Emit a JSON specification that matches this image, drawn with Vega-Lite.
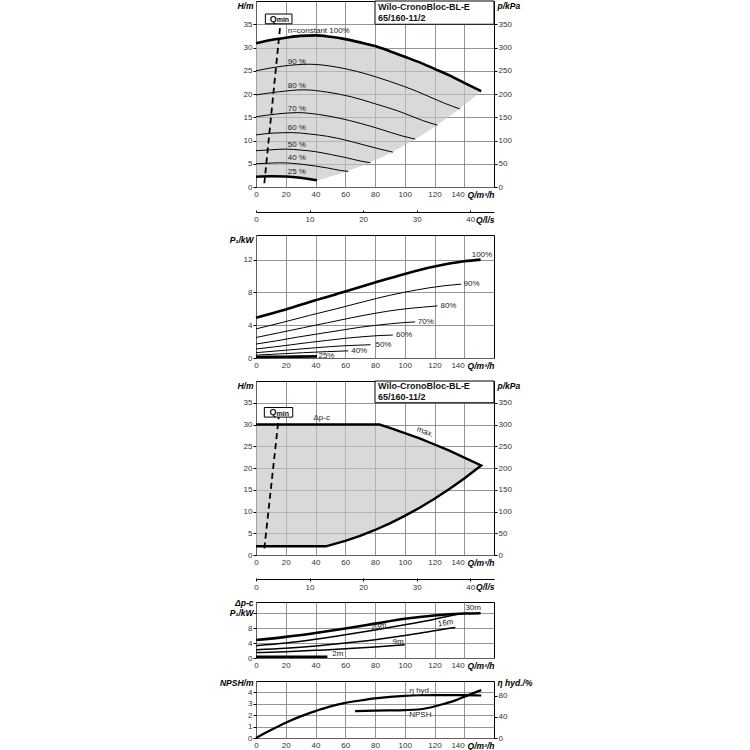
{
"$schema": "https://vega.github.io/schema/vega-lite/v6.json",
"background": "white",
"padding": {"left": 218, "top": 0, "right": 5, "bottom": 2},
"autosize": {"type": "pad"},
"spacing": 23,
"bounds": "flush",
"config": {
  "view": {"stroke": "black", "strokeWidth": 1},
  "font": "Liberation Sans",
  "axis": {"labelFont": "Liberation Sans", "labelFontSize": 8, "labelColor": "#333", "titleFont": "Liberation Sans", "titleFontSize": 8.5, "titleFontWeight": "bold", "titleFontStyle": "italic", "titleColor": "#000", "gridColor": "#7a7a7a", "gridWidth": 0.8, "domain": false, "tickColor": "#000", "tickSize": 3, "labelPadding": 1, "labelFlush": false, "labelOverlap": false},
  "text": {"font": "Liberation Sans", "fontSize": 8, "color": "#222"},
  "line": {"color": "black"}
},
"datasets": {
  "curvesA": [
    {"n":"100%","Q":0,"H":30.9},{"n":"100%","Q":10,"H":31.6},{"n":"100%","Q":20,"H":32.1},{"n":"100%","Q":30,"H":32.5},{"n":"100%","Q":40,"H":32.6},{"n":"100%","Q":50,"H":32.3},{"n":"100%","Q":60,"H":31.8},{"n":"100%","Q":70,"H":31.1},{"n":"100%","Q":80,"H":30.3},{"n":"100%","Q":90,"H":29.2},{"n":"100%","Q":100,"H":28.0},{"n":"100%","Q":110,"H":26.8},{"n":"100%","Q":120,"H":25.4},{"n":"100%","Q":130,"H":24.0},{"n":"100%","Q":140,"H":22.4},{"n":"100%","Q":151.4,"H":20.6},
    {"n":"90%","Q":0,"H":25.0},{"n":"90%","Q":18,"H":26.0},{"n":"90%","Q":36,"H":26.4},{"n":"90%","Q":54,"H":25.8},{"n":"90%","Q":72,"H":24.5},{"n":"90%","Q":90,"H":22.7},{"n":"90%","Q":108,"H":20.6},{"n":"90%","Q":126,"H":18.1},{"n":"90%","Q":137,"H":16.8},
    {"n":"80%","Q":0,"H":19.8},{"n":"80%","Q":16,"H":20.5},{"n":"80%","Q":32,"H":20.9},{"n":"80%","Q":48,"H":20.4},{"n":"80%","Q":64,"H":19.4},{"n":"80%","Q":80,"H":17.9},{"n":"80%","Q":96,"H":16.3},{"n":"80%","Q":112,"H":14.3},{"n":"80%","Q":122,"H":13.3},
    {"n":"70%","Q":0,"H":15.1},{"n":"70%","Q":14,"H":15.7},{"n":"70%","Q":28,"H":16.0},{"n":"70%","Q":42,"H":15.6},{"n":"70%","Q":56,"H":14.8},{"n":"70%","Q":70,"H":13.7},{"n":"70%","Q":84,"H":12.4},{"n":"70%","Q":98,"H":11.0},{"n":"70%","Q":107,"H":10.3},
    {"n":"60%","Q":0,"H":11.2},{"n":"60%","Q":12,"H":11.6},{"n":"60%","Q":24,"H":11.7},{"n":"60%","Q":36,"H":11.4},{"n":"60%","Q":48,"H":10.9},{"n":"60%","Q":60,"H":10.1},{"n":"60%","Q":72,"H":9.1},{"n":"60%","Q":84,"H":8.1},{"n":"60%","Q":92,"H":7.5},
    {"n":"50%","Q":0,"H":7.8},{"n":"50%","Q":10,"H":8.0},{"n":"50%","Q":20,"H":8.15},{"n":"50%","Q":30,"H":7.95},{"n":"50%","Q":40,"H":7.6},{"n":"50%","Q":50,"H":7.0},{"n":"50%","Q":60,"H":6.35},{"n":"50%","Q":70,"H":5.6},{"n":"50%","Q":77,"H":5.2},
    {"n":"40%","Q":0,"H":5.0},{"n":"40%","Q":8,"H":5.1},{"n":"40%","Q":16,"H":5.2},{"n":"40%","Q":24,"H":5.1},{"n":"40%","Q":32,"H":4.85},{"n":"40%","Q":40,"H":4.5},{"n":"40%","Q":48,"H":4.1},{"n":"40%","Q":56,"H":3.6},{"n":"40%","Q":62,"H":3.35},
    {"n":"25%","Q":0,"H":2.2},{"n":"25%","Q":10,"H":2.3},{"n":"25%","Q":20,"H":2.25},{"n":"25%","Q":30,"H":2.0},{"n":"25%","Q":41,"H":1.45}
  ],
  "curvesB": [
    {"n":"100%","Q":0,"P":4.9},{"n":"100%","Q":20,"P":5.9},{"n":"100%","Q":40,"P":7.05},{"n":"100%","Q":60,"P":8.1},{"n":"100%","Q":80,"P":9.2},{"n":"100%","Q":100,"P":10.25},{"n":"100%","Q":120,"P":11.15},{"n":"100%","Q":140,"P":11.8},{"n":"100%","Q":151,"P":12.0},
    {"n":"90%","Q":0,"P":3.55},{"n":"90%","Q":18,"P":4.35},{"n":"90%","Q":36,"P":5.2},{"n":"90%","Q":54,"P":6.0},{"n":"90%","Q":72,"P":6.85},{"n":"90%","Q":90,"P":7.65},{"n":"90%","Q":108,"P":8.3},{"n":"90%","Q":126,"P":8.8},{"n":"90%","Q":138,"P":9.0},
    {"n":"80%","Q":0,"P":2.5},{"n":"80%","Q":16,"P":3.1},{"n":"80%","Q":32,"P":3.7},{"n":"80%","Q":48,"P":4.3},{"n":"80%","Q":64,"P":4.9},{"n":"80%","Q":80,"P":5.45},{"n":"80%","Q":96,"P":5.9},{"n":"80%","Q":112,"P":6.2},{"n":"80%","Q":122,"P":6.35},
    {"n":"70%","Q":0,"P":1.7},{"n":"70%","Q":14,"P":2.1},{"n":"70%","Q":28,"P":2.55},{"n":"70%","Q":42,"P":2.95},{"n":"70%","Q":56,"P":3.35},{"n":"70%","Q":70,"P":3.75},{"n":"70%","Q":84,"P":4.05},{"n":"70%","Q":98,"P":4.3},{"n":"70%","Q":107,"P":4.4},
    {"n":"60%","Q":0,"P":1.1},{"n":"60%","Q":12,"P":1.35},{"n":"60%","Q":24,"P":1.62},{"n":"60%","Q":36,"P":1.9},{"n":"60%","Q":48,"P":2.15},{"n":"60%","Q":60,"P":2.4},{"n":"60%","Q":72,"P":2.6},{"n":"60%","Q":84,"P":2.75},{"n":"60%","Q":92,"P":2.8},
    {"n":"50%","Q":0,"P":0.65},{"n":"50%","Q":20,"P":0.95},{"n":"50%","Q":40,"P":1.25},{"n":"50%","Q":60,"P":1.5},{"n":"50%","Q":77,"P":1.62},
    {"n":"40%","Q":0,"P":0.35},{"n":"40%","Q":16,"P":0.5},{"n":"40%","Q":32,"P":0.65},{"n":"40%","Q":48,"P":0.78},{"n":"40%","Q":62,"P":0.87},
    {"n":"25%","Q":0,"P":0.12},{"n":"25%","Q":20,"P":0.15},{"n":"25%","Q":41,"P":0.2}
  ],
  "curvesD": [
    {"c":"30m","Q":0,"P":4.8},{"c":"30m","Q":20,"P":5.65},{"c":"30m","Q":40,"P":6.7},{"c":"30m","Q":60,"P":7.9},{"c":"30m","Q":80,"P":9.2},{"c":"30m","Q":100,"P":10.5},{"c":"30m","Q":120,"P":11.4},{"c":"30m","Q":140,"P":11.9},{"c":"30m","Q":151,"P":12.0},
    {"c":"23m","Q":0,"P":3.3},{"c":"23m","Q":20,"P":4.0},{"c":"23m","Q":40,"P":5.0},{"c":"23m","Q":60,"P":6.2},{"c":"23m","Q":80,"P":7.5},{"c":"23m","Q":100,"P":8.9},{"c":"23m","Q":120,"P":10.4},{"c":"23m","Q":138,"P":11.9},
    {"c":"16m","Q":0,"P":2.2},{"c":"16m","Q":20,"P":2.6},{"c":"16m","Q":40,"P":3.2},{"c":"16m","Q":60,"P":4.0},{"c":"16m","Q":80,"P":4.9},{"c":"16m","Q":100,"P":6.0},{"c":"16m","Q":120,"P":7.3},{"c":"16m","Q":134,"P":8.2},
    {"c":"9m","Q":0,"P":1.45},{"c":"9m","Q":20,"P":1.7},{"c":"9m","Q":40,"P":2.05},{"c":"9m","Q":60,"P":2.45},{"c":"9m","Q":80,"P":2.95},{"c":"9m","Q":100,"P":3.55},
    {"c":"2m","Q":0,"P":0.35},{"c":"2m","Q":48,"P":0.35}
  ]
},
"vconcat": [
  {
    "width": 238, "height": 186,
    "encoding": {"x": {"field": "Q", "type": "quantitative", "scale": {"domain": [0, 160], "nice": false},
       "axis": {"values": [0,20,40,60,80,100,120,140], "title": "Q/m³/h", "titleX": 238, "titleY": 3, "titleAlign": "right", "titleBaseline": "top", "titleAngle": 0, "ticks": false, "labelPadding": 3, "labelAlign": {"condition": {"test": "datum.value === 140", "value": "right"}, "value": "center"}}}},
    "layer": [
      {"encoding": {"y": {"field": "H", "type": "quantitative", "scale": {"domain": [0, 40], "nice": false},
          "axis": {"values": [0,5,10,15,20,25,30,35], "title": "H/m", "titleX": -3, "titleY": 4, "titleAlign": "right", "titleBaseline": "middle", "titleAngle": 0}}},
       "layer": [
        {"data": {"values": [{"Q":0,"H":30.9,"lo":2.2},{"Q":10,"H":31.6,"lo":2.3},{"Q":20,"H":32.1,"lo":2.25},{"Q":30,"H":32.5,"lo":2.0},{"Q":41,"H":32.6,"lo":1.45},{"Q":50,"H":32.3,"lo":2.25},{"Q":60,"H":31.8,"lo":3.24},{"Q":70,"H":31.1,"lo":4.4},{"Q":80,"H":30.3,"lo":5.75},{"Q":90,"H":29.2,"lo":7.28},{"Q":100,"H":28.0,"lo":8.99},{"Q":110,"H":26.8,"lo":10.87},{"Q":120,"H":25.4,"lo":12.94},{"Q":130,"H":24.0,"lo":15.19},{"Q":140,"H":22.4,"lo":17.6},{"Q":151.4,"H":20.6,"lo":20.6}]},
         "mark": {"type": "area", "color": "#c4c4c4", "opacity": 0.65, "interpolate": "monotone"},
         "encoding": {"y2": {"field": "lo"}}},
        {"data": {"name": "curvesA"}, "transform": [{"filter": "datum.n !== '100%' && datum.n !== '25%'"}],
         "mark": {"type": "line", "strokeWidth": 1, "interpolate": "monotone"},
         "encoding": {"detail": {"field": "n"}}},
        {"data": {"name": "curvesA"}, "transform": [{"filter": "datum.n === '100%' || datum.n === '25%'"}],
         "mark": {"type": "line", "strokeWidth": 2.6, "interpolate": "monotone"},
         "encoding": {"detail": {"field": "n"}}},
        {"data": {"values": [{"Q":16.4,"H":35.1},{"Q":5.6,"H":0.8}]},
         "mark": {"type": "line", "strokeWidth": 1.8, "strokeDash": [6, 4]},
         "encoding": {}},
        {"data": {"values": [{"Q":80,"Q2":160,"H":35,"H2":40},{"Q":6.3,"Q2":24.2,"H":35.1,"H2":37.2}]},
         "mark": {"type": "rect", "fill": "white", "stroke": "black", "strokeWidth": 1},
         "encoding": {"x2": {"field": "Q2"}, "y2": {"field": "H2"}}},
        {"data": {"values": [{"t":"Wilo-CronoBloc-BL-E","Q":82,"H":38.7},{"t":"65/160-11/2","Q":82,"H":36.4}]},
         "mark": {"type": "text", "align": "left", "baseline": "middle", "fontSize": 9, "fontWeight": "bold", "color": "#111"},
         "encoding": {"text": {"field": "t"}}},
        {"data": {"values": [{"t":"Q","Q":15.25,"H":36.15}]},
         "mark": {"type": "text", "align": "right", "baseline": "middle", "dx": -2, "fontSize": 9, "fontWeight": "bold", "color": "#111"},
         "encoding": {"text": {"field": "t"}}},
        {"data": {"values": [{"t":"min","Q":15.25,"H":36.15}]},
         "mark": {"type": "text", "align": "left", "baseline": "middle", "dx": -2, "dy": 1.5, "fontSize": 7, "fontWeight": "bold", "color": "#111"},
         "encoding": {"text": {"field": "t"}}},
        {"data": {"values": [{"t":"n=constant 100%","Q":21.3,"H":33.6},{"t":"90 %","Q":21.3,"H":26.9},{"t":"80 %","Q":21.3,"H":21.7},{"t":"70 %","Q":21.3,"H":16.8},{"t":"60 %","Q":21.3,"H":12.7},{"t":"50 %","Q":21.3,"H":9.1},{"t":"40 %","Q":21.3,"H":6.2},{"t":"25 %","Q":21.3,"H":3.2}]},
         "mark": {"type": "text", "align": "left", "baseline": "middle", "color": "#222"},
         "encoding": {"text": {"field": "t"}}}
      ]},
      {"data": {"values": [{"Q":50,"p":100},{"Q":50,"p":200}]}, "mark": {"type": "point", "opacity": 0, "size": 1},
       "encoding": {"y": {"field": "p", "type": "quantitative", "scale": {"domain": [0, 400], "nice": false},
         "axis": {"orient": "right", "values": [0,50,100,150,200,250,300,350], "title": "p/kPa", "titleX": 3, "titleY": 4, "titleAlign": "left", "titleBaseline": "middle", "titleAngle": 0, "grid": false}}}}
    ],
    "resolve": {"scale": {"y": "independent"}}
  },
  {
    "width": 238, "height": 2, "view": {"stroke": null},
    "data": {"values": [{"ls":10},{"ls":20}]},
    "mark": {"type": "point", "opacity": 0, "size": 1},
    "encoding": {"x": {"field": "ls", "type": "quantitative", "scale": {"domain": [0, 44.44], "nice": false},
      "axis": {"values": [0,10,20,30,40], "title": "Q/l/s", "titleX": 238, "titleY": 3, "titleAlign": "right", "titleBaseline": "top", "titleAngle": 0, "domain": true, "domainColor": "#000", "domainWidth": 1, "ticks": false, "grid": true, "gridColor": "#000", "gridWidth": 1, "labelPadding": 3}}}
  },
  {
    "width": 238, "height": 123,
    "encoding": {
      "x": {"field": "Q", "type": "quantitative", "scale": {"domain": [0, 160], "nice": false},
        "axis": {"values": [0,20,40,60,80,100,120,140], "title": "Q/m³/h", "titleX": 238, "titleY": 3, "titleAlign": "right", "titleBaseline": "top", "titleAngle": 0, "ticks": false, "labelPadding": 3, "labelAlign": {"condition": {"test": "datum.value === 140", "value": "right"}, "value": "center"}}},
      "y": {"field": "P", "type": "quantitative", "scale": {"domain": [0, 15], "nice": false},
        "axis": {"values": [0,4,8,12], "title": "P₁/kW", "titleX": -3, "titleY": 4.5, "titleAlign": "right", "titleBaseline": "middle", "titleAngle": 0}}},
    "layer": [
      {"data": {"name": "curvesB"}, "transform": [{"filter": "datum.n !== '100%' && datum.n !== '25%'"}],
       "mark": {"type": "line", "strokeWidth": 1, "interpolate": "monotone"},
       "encoding": {"detail": {"field": "n"}}},
      {"data": {"name": "curvesB"}, "transform": [{"filter": "datum.n === '100%' || datum.n === '25%'"}],
       "mark": {"type": "line", "strokeWidth": 2.6, "interpolate": "monotone"},
       "encoding": {"detail": {"field": "n"}}},
      {"data": {"values": [{"t":"100%","Q":145,"P":12.6},{"t":"90%","Q":139.5,"P":9.0},{"t":"80%","Q":124,"P":6.36},{"t":"70%","Q":108.8,"P":4.4},{"t":"60%","Q":94.2,"P":2.75},{"t":"50%","Q":80.3,"P":1.6},{"t":"40%","Q":64,"P":0.87},{"t":"25%","Q":42,"P":0.2}]},
       "mark": {"type": "text", "align": "left", "baseline": "middle", "color": "#222"},
       "encoding": {"text": {"field": "t"}}}
    ]
  },
  {
    "width": 238, "height": 174,
    "encoding": {"x": {"field": "Q", "type": "quantitative", "scale": {"domain": [0, 160], "nice": false},
       "axis": {"values": [0,20,40,60,80,100,120,140], "title": "Q/m³/h", "titleX": 238, "titleY": 3, "titleAlign": "right", "titleBaseline": "top", "titleAngle": 0, "ticks": false, "labelPadding": 3, "labelAlign": {"condition": {"test": "datum.value === 140", "value": "right"}, "value": "center"}}}},
    "layer": [
      {"encoding": {"y": {"field": "H", "type": "quantitative", "scale": {"domain": [0, 40], "nice": false},
          "axis": {"values": [0,5,10,15,20,25,30,35], "title": "H/m", "titleX": -3, "titleY": 4, "titleAlign": "right", "titleBaseline": "middle", "titleAngle": 0}}},
       "layer": [
        {"data": {"values": [{"Q":0,"H":30,"lo":2},{"Q":47,"H":30,"lo":2},{"Q":60,"H":30,"lo":3.24},{"Q":70,"H":30,"lo":4.4},{"Q":83,"H":30,"lo":6.2},{"Q":90,"H":29.2,"lo":7.28},{"Q":100,"H":28.0,"lo":8.99},{"Q":110,"H":26.8,"lo":10.87},{"Q":120,"H":25.4,"lo":12.94},{"Q":130,"H":24.0,"lo":15.19},{"Q":140,"H":22.4,"lo":17.6},{"Q":151.4,"H":20.6,"lo":20.6}]},
         "mark": {"type": "area", "color": "#c4c4c4", "opacity": 0.65},
         "encoding": {"y2": {"field": "lo"}}},
        {"data": {"values": [{"o":1,"Q":0,"H":30},{"o":2,"Q":83,"H":30},{"o":3,"Q":90,"H":29.2},{"o":4,"Q":100,"H":28.0},{"o":5,"Q":110,"H":26.8},{"o":6,"Q":120,"H":25.4},{"o":7,"Q":130,"H":24.0},{"o":8,"Q":140,"H":22.4},{"o":9,"Q":151.4,"H":20.6},{"o":10,"Q":140,"H":17.6},{"o":11,"Q":130,"H":15.19},{"o":12,"Q":120,"H":12.94},{"o":13,"Q":110,"H":10.87},{"o":14,"Q":100,"H":8.99},{"o":15,"Q":90,"H":7.28},{"o":16,"Q":80,"H":5.75},{"o":17,"Q":70,"H":4.4},{"o":18,"Q":60,"H":3.24},{"o":19,"Q":47,"H":2.0},{"o":20,"Q":0,"H":2.0}]},
         "mark": {"type": "line", "strokeWidth": 2.4, "strokeJoin": "miter"},
         "encoding": {"order": {"field": "o", "type": "quantitative"}}},
        {"data": {"values": [{"Q":15.3,"H":31.7},{"Q":5.6,"H":1.5}]},
         "mark": {"type": "line", "strokeWidth": 1.8, "strokeDash": [6, 4]},
         "encoding": {}},
        {"data": {"values": [{"Q":80,"Q2":160,"H":35,"H2":40},{"Q":5.6,"Q2":24.7,"H":31.7,"H2":33.9}]},
         "mark": {"type": "rect", "fill": "white", "stroke": "black", "strokeWidth": 1},
         "encoding": {"x2": {"field": "Q2"}, "y2": {"field": "H2"}}},
        {"data": {"values": [{"t":"Wilo-CronoBloc-BL-E","Q":82,"H":38.8},{"t":"65/160-11/2","Q":82,"H":36.4}]},
         "mark": {"type": "text", "align": "left", "baseline": "middle", "fontSize": 9, "fontWeight": "bold", "color": "#111"},
         "encoding": {"text": {"field": "t"}}},
        {"data": {"values": [{"t":"Q","Q":15.15,"H":32.8}]},
         "mark": {"type": "text", "align": "right", "baseline": "middle", "dx": -2, "fontSize": 9, "fontWeight": "bold", "color": "#111"},
         "encoding": {"text": {"field": "t"}}},
        {"data": {"values": [{"t":"min","Q":15.15,"H":32.8}]},
         "mark": {"type": "text", "align": "left", "baseline": "middle", "dx": -2, "dy": 1.5, "fontSize": 7, "fontWeight": "bold", "color": "#111"},
         "encoding": {"text": {"field": "t"}}},
        {"data": {"values": [{"t":"Δp-c","Q":44.2,"H":31.4}]},
         "mark": {"type": "text", "align": "center", "baseline": "middle", "color": "#222"},
         "encoding": {"text": {"field": "t"}}},
        {"data": {"values": [{"t":"max.","Q":113.7,"H":28.2}]},
         "mark": {"type": "text", "align": "center", "baseline": "middle", "angle": 21, "color": "#222"},
         "encoding": {"text": {"field": "t"}}}
      ]},
      {"data": {"values": [{"Q":50,"p":100},{"Q":50,"p":200}]}, "mark": {"type": "point", "opacity": 0, "size": 1},
       "encoding": {"y": {"field": "p", "type": "quantitative", "scale": {"domain": [0, 400], "nice": false},
         "axis": {"orient": "right", "values": [0,50,100,150,200,250,300,350], "title": "p/kPa", "titleX": 3, "titleY": 4, "titleAlign": "left", "titleBaseline": "middle", "titleAngle": 0, "grid": false}}}}
    ],
    "resolve": {"scale": {"y": "independent"}}
  },
  {
    "width": 238, "height": 1, "view": {"stroke": null},
    "data": {"values": [{"ls":10},{"ls":20}]},
    "mark": {"type": "point", "opacity": 0, "size": 1},
    "encoding": {"x": {"field": "ls", "type": "quantitative", "scale": {"domain": [0, 44.44], "nice": false},
      "axis": {"values": [0,10,20,30,40], "title": "Q/l/s", "titleX": 238, "titleY": 3, "titleAlign": "right", "titleBaseline": "top", "titleAngle": 0, "domain": true, "domainColor": "#000", "domainWidth": 1, "ticks": true, "tickSize": 2, "grid": true, "gridColor": "#000", "gridWidth": 1, "labelPadding": 2}}}
  },
  {
    "width": 238, "height": 56,
    "encoding": {
      "x": {"field": "Q", "type": "quantitative", "scale": {"domain": [0, 160], "nice": false},
        "axis": {"values": [0,20,40,60,80,100,120,140], "title": "Q/m³/h", "titleX": 238, "titleY": 3, "titleAlign": "right", "titleBaseline": "top", "titleAngle": 0, "ticks": false, "labelPadding": 3, "labelAlign": {"condition": {"test": "datum.value === 140", "value": "right"}, "value": "center"}}},
      "y": {"field": "P", "type": "quantitative", "scale": {"domain": [0, 15], "nice": false},
        "axis": {"values": [0,4,8,12], "labelExpr": "datum.value == 12 ? '' : datum.label", "title": ["Δp-c", "P₁/kW"], "titleX": -3, "titleY": -4, "titleAlign": "right", "titleBaseline": "top", "titleAngle": 0, "titleLineHeight": 10}}},
    "layer": [
      {"data": {"name": "curvesD"}, "transform": [{"filter": "datum.c !== '30m' && datum.c !== '2m'"}],
       "mark": {"type": "line", "strokeWidth": 1.5, "interpolate": "monotone"},
       "encoding": {"detail": {"field": "c"}}},
      {"data": {"name": "curvesD"}, "transform": [{"filter": "datum.c === '30m' || datum.c === '2m'"}],
       "mark": {"type": "line", "strokeWidth": 2.6, "interpolate": "monotone"},
       "encoding": {"detail": {"field": "c"}}},
      {"data": {"values": [{"t":"30m","Q":146,"P":13.5},{"t":"9m","Q":95.5,"P":4.4},{"t":"2m","Q":55,"P":1.2}]},
       "mark": {"type": "text", "align": "center", "baseline": "middle", "color": "#222"},
       "encoding": {"text": {"field": "t"}}},
      {"data": {"values": [{"t":"23m","Q":82.5,"P":8.4},{"t":"16m","Q":127.5,"P":9.3}]},
       "mark": {"type": "text", "align": "center", "baseline": "middle", "angle": -9, "color": "#222"},
       "encoding": {"text": {"field": "t"}}}
    ]
  },
  {
    "width": 238, "height": 57,
    "encoding": {"x": {"field": "Q", "type": "quantitative", "scale": {"domain": [0, 160], "nice": false},
       "axis": {"values": [0,20,40,60,80,100,120,140], "title": "Q/m³/h", "titleX": 238, "titleY": 3, "titleAlign": "right", "titleBaseline": "top", "titleAngle": 0, "ticks": false, "labelPadding": 3, "labelAlign": {"condition": {"test": "datum.value === 140", "value": "right"}, "value": "center"}}}},
    "layer": [
      {"encoding": {"y": {"field": "N", "type": "quantitative", "scale": {"domain": [0, 5], "nice": false},
          "axis": {"values": [0,1,2,3,4], "title": "NPSH/m", "titleX": -3, "titleY": 1.5, "titleAlign": "right", "titleBaseline": "middle", "titleAngle": 0}}},
       "layer": [
        {"data": {"values": [{"Q":103.5,"Q2":117.5,"N":3.8,"N2":4.35},{"Q":104,"Q2":117,"N":1.75,"N2":2.25}]},
         "mark": {"type": "rect", "fill": "white"},
         "encoding": {"x2": {"field": "Q2"}, "y2": {"field": "N2"}}},
        {"data": {"values": [{"Q":66.6,"N":2.35},{"Q":80,"N":2.4},{"Q":90,"N":2.42},{"Q":100,"N":2.45},{"Q":108.8,"N":2.5},{"Q":118,"N":2.7},{"Q":126.7,"N":3.0},{"Q":134,"N":3.3},{"Q":140.2,"N":3.63},{"Q":151.4,"N":4.2}]},
         "mark": {"type": "line", "strokeWidth": 2.2, "interpolate": "monotone"},
         "encoding": {}},
        {"data": {"values": [{"t":"η hyd.","Q":110.5,"N":4.12},{"t":"NPSH","Q":110.5,"N":2.0}]},
         "mark": {"type": "text", "align": "center", "baseline": "middle", "color": "#222"},
         "encoding": {"text": {"field": "t"}}}
      ]},
      {"data": {"values": [{"Q":0,"eta":0},{"Q":10,"eta":15},{"Q":20,"eta":29},{"Q":30,"eta":41},{"Q":40,"eta":51},{"Q":50,"eta":60},{"Q":60,"eta":66.5},{"Q":70,"eta":71},{"Q":80,"eta":75},{"Q":90,"eta":78},{"Q":100,"eta":80},{"Q":110,"eta":81},{"Q":120,"eta":81.3},{"Q":130,"eta":81.3},{"Q":140,"eta":81.2},{"Q":151.4,"eta":80.5}]},
       "mark": {"type": "line", "strokeWidth": 2.2, "interpolate": "monotone"},
       "encoding": {"y": {"field": "eta", "type": "quantitative", "scale": {"domain": [0, 108], "nice": false},
           "axis": {"orient": "right", "values": [0,40,80], "title": "η hyd./%", "titleX": 3, "titleY": 1.5, "titleAlign": "left", "titleBaseline": "middle", "titleAngle": 0, "grid": false}}}}
    ],
    "resolve": {"scale": {"y": "independent"}}
  }
]
}
